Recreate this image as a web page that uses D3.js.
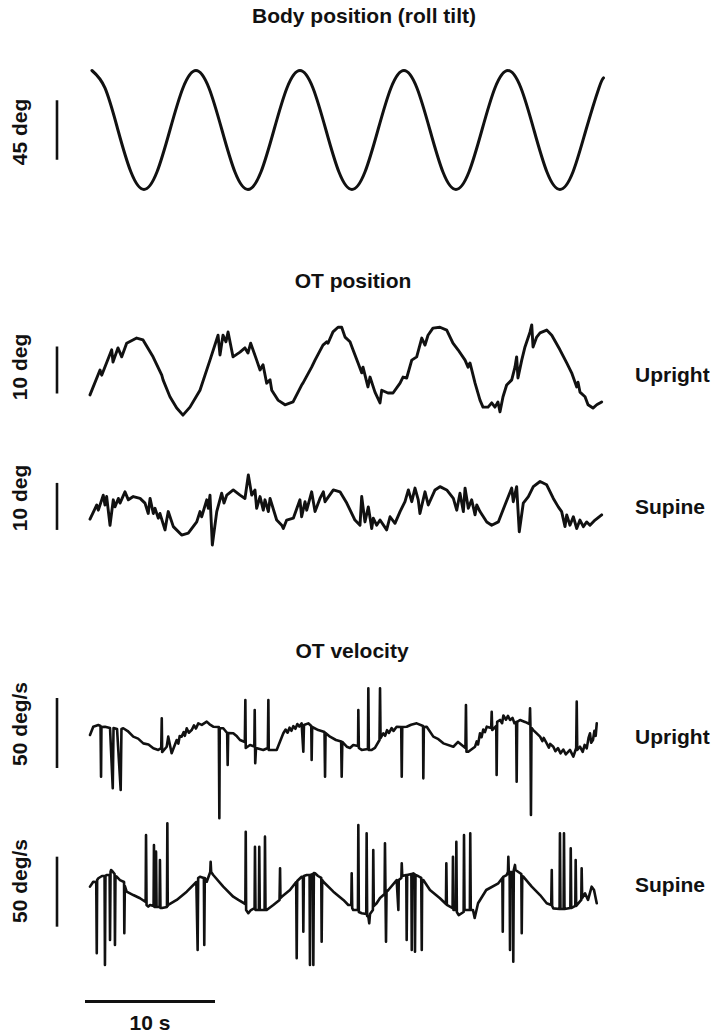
<!DOCTYPE html>
<html>
<head>
<meta charset="utf-8">
<script src="https://cdn.jsdelivr.net/npm/d3@7"></script>
<style>
  html, body { margin: 0; padding: 0; background: #fff; }
  svg text { font-family: "Liberation Sans", Arial, Helvetica, sans-serif; font-weight: bold; fill: #111; }
</style>
</head>
<body>
<svg id="chart" width="716" height="1034"></svg>
<script>
// ---- data: [time (s), value] ----
// Body roll tilt (deg)
const bodyTilt = [
  [0.15,45],[1.15,31.8],[2.15,0],[3.15,-31.8],[4.15,-45],[5.15,-31.8],[6.15,0],[7.15,31.8],
  [8.15,45],[9.15,31.8],[10.15,0],[11.15,-31.8],[12.15,-45],[13.15,-31.8],[14.15,0],[15.15,31.8],
  [16.15,45],[17.15,31.8],[18.15,0],[19.15,-31.8],[20.15,-45],[21.15,-31.8],[22.15,0],[23.15,31.8],
  [24.15,45],[25.15,31.8],[26.15,0],[27.15,-31.8],[28.15,-45],[29.15,-31.8],[30.15,0],[31.15,31.8],
  [32.15,45],[33.15,31.8],[34.15,0],[35.15,-31.8],[36.15,-45],[37.15,-31.8],[38.15,0],[39.15,31.8],
  [39.5,39.4]
];

// Ocular torsion position, upright (deg)
const otPosUpright = [
  [0,-5.3],[0.77,0],[0.9,-1.1],[1.67,4.3],[1.77,1.7],[2.15,4.7],[2.44,2.8],[2.82,5.7],[3.59,6.8],[4.08,6.4],
  [4.85,2.8],[5.52,-1.1],[5.62,-2.1],[6.15,-5.7],[6.67,-8.1],[7.15,-9.6],[7.69,-7.9],[8.46,-4.3],[9.23,2.1],
  [9.85,7.4],[10.0,3.2],[10.23,7.4],[10.46,6.0],[10.62,8.1],[11.0,2.8],[11.54,3.8],[11.92,4.7],[12.15,3.6],
  [12.36,5.7],[12.82,2.1],[13.08,0],[13.31,1.1],[13.59,-2.8],[13.85,-2.1],[13.98,-4.3],[14.46,-6.4],[15.0,-7.4],
  [15.62,-6.8],[16.28,-3.2],[16.38,-2.8],[17.05,0.6],[17.31,2.1],[17.92,5.3],[18.21,6.0],[18.31,5.7],[18.69,8.1],
  [19.08,9.1],[19.36,9.1],[19.62,7.0],[20.0,6.0],[20.23,4.3],[20.62,1.5],[20.9,-0.6],[21.0,0.6],[21.38,-3.6],
  [21.54,-1.5],[21.92,-4.7],[22.31,-7.0],[22.44,-4.3],[22.92,-4.9],[23.31,-4.9],[23.85,-2.8],[24.08,-1.5],
  [24.36,-1.7],[24.75,2.1],[25.13,2.8],[25.52,6.8],[25.77,5.3],[26.0,7.4],[26.38,8.9],[26.92,9.1],[27.44,8.5],
  [27.92,5.7],[28.31,4.3],[28.85,2.1],[29.08,0.6],[29.23,1.5],[29.62,-2.8],[30.0,-6.4],[30.23,-7.9],[30.62,-7.9],
  [30.9,-7.0],[31.15,-7.9],[31.38,-6.8],[31.54,-8.9],[31.77,-5.7],[32.05,-3.2],[32.44,-2.1],[32.69,0.6],
  [32.82,2.8],[32.92,-1.7],[33.21,2.1],[33.46,4.9],[33.85,8.1],[33.98,9.6],[34.08,4.9],[34.36,7.0],[34.62,7.9],
  [35.13,8.5],[35.52,7.4],[36.15,4.3],[36.67,1.5],[37.05,-0.6],[37.44,-3.6],[37.54,-2.6],[37.69,-4.7],
  [38.08,-5.7],[38.31,-7.4],[38.69,-8.1],[38.98,-7.4],[39.36,-6.8]
];

// Ocular torsion position, supine (deg)
const otPosSupine = [
  [0,-3.0],[0.52,0],[0.64,-1.1],[1.02,2.1],[1.15,0],[1.28,1.8],[1.54,-4.3],[1.79,1.1],[1.92,-0.4],[2.18,1.4],
  [2.31,0.4],[2.69,2.8],[2.95,1.1],[3.33,1.8],[3.85,1.4],[4.23,0.4],[4.48,-1.8],[4.62,1.4],[4.87,-1.8],[5.0,-0.7],
  [5.25,-2.8],[5.38,-1.8],[5.77,-5.3],[5.9,-3.2],[6.02,-1.4],[6.41,-4.6],[7.05,-6.4],[7.56,-6.0],[8.21,-3.6],
  [8.46,-1.4],[8.59,-2.5],[8.98,1.1],[9.1,-0.7],[9.23,2.1],[9.41,-8.5],[9.75,-1.4],[10.13,2.5],[10.31,0.4],
  [10.52,2.1],[11.02,3.2],[11.54,2.1],[11.92,1.4],[12.18,6.4],[12.44,2.1],[12.69,3.2],[12.82,-0.7],[13.08,1.8],
  [13.33,-1.1],[13.46,1.1],[13.72,-1.4],[13.85,1.4],[14.36,-3.2],[14.75,-4.3],[14.87,-5.0],[15.13,-3.2],
  [15.64,-2.8],[16.15,1.1],[16.28,-2.5],[16.54,0.7],[16.67,-1.1],[17.05,2.8],[17.31,-1.4],[17.69,1.4],[17.95,2.8],
  [18.08,0.7],[18.72,3.2],[19.23,2.8],[19.75,0.4],[20.38,-3.2],[20.77,-4.3],[20.9,1.8],[21.15,-3.6],[21.41,-0.4],
  [21.67,-5.0],[21.79,-2.8],[22.05,-4.3],[22.31,-3.2],[22.82,-5.3],[23.08,-2.5],[23.46,-3.9],[23.85,-1.4],
  [24.23,0.7],[24.49,3.2],[24.75,0.7],[25.0,3.6],[25.25,1.1],[25.38,-1.8],[25.77,2.8],[26.02,0],[26.54,3.2],
  [26.92,3.9],[27.44,3.2],[27.95,1.4],[28.21,-1.1],[28.46,2.5],[28.72,-1.4],[28.85,3.6],[29.1,-0.7],[29.36,1.1],
  [29.62,-2.1],[29.75,0],[30.0,-1.4],[30.52,-3.6],[30.9,-4.3],[31.41,-3.6],[31.92,0],[32.18,1.8],[32.44,3.6],
  [32.56,0.7],[32.82,3.9],[33.02,-5.7],[33.33,0.4],[33.72,1.8],[34.1,3.9],[34.62,5.0],[35.13,4.3],[35.64,1.4],
  [36.02,-0.4],[36.28,-1.4],[36.54,-4.6],[36.67,-2.1],[36.92,-4.3],[37.18,-2.5],[37.44,-5.0],[37.69,-3.2],
  [37.95,-4.6],[38.21,-3.6],[38.46,-4.3],[38.85,-3.2],[39.36,-2.1]
];

// Ocular torsion velocity, upright (deg/s)
const otVelUpright = [
  [0,3.6],[0.25,9.5],[0.64,10.7],[0.81,10],[0.85,-26.2],[0.88,9.3],[1.15,9.5],[1.54,8.6],[1.75,-34.5],[1.81,8.6],
  [2.08,7.9],[2.36,-35.7],[2.42,7.9],[2.56,8.4],[2.9,6.4],[3.33,2.4],[3.7,1.0],[4.1,-2.4],[4.5,-3.2],[4.87,-5.9],
  [5.25,-7.1],[5.48,-5.7],[5.52,15.5],[5.55,-8.6],[5.9,-4.8],[6.02,2.4],[6.28,-9.5],[6.67,0],[6.8,-2.6],
  [6.9,2.8],[7.05,2.4],[7.2,5.6],[7.3,3.0],[7.44,8.4],[7.6,5.2],
  [7.82,7.1],[8.0,10.4],[8.15,8.2],[8.33,11.9],[8.6,10.8],[8.98,13.1],[9.2,11.2],[9.48,9.5],[9.91,9.3],
  [9.95,-55.9],[9.98,8.6],
  [10.25,8.4],[10.55,5.0],[10.59,-17.9],[10.63,5.0],[11.02,4.8],[11.3,2.6],[11.54,0],[11.91,-1.4],[11.95,28.6],
  [11.98,-5.7],[12.31,-3.6],[12.64,-4.6],[12.67,21.4],[12.71,-16.6],[12.77,-5.7],[13.33,-7.1],[13.68,-5.7],
  [13.72,28.6],[13.75,-7.1],[13.98,-7.1],[14.36,-7.1],[14.87,4.8],[15.05,7.5],[15.2,5.2],[15.35,8.8],[15.5,6.6],
  [15.64,9.9],[15.8,8.0],[15.95,11.4],[16.1,9.6],[16.28,11.9],
  [16.41,-8.4],[16.46,10.7],[16.79,11.9],[17.02,10],[17.05,-14.3],[17.09,9.3],[17.56,7.1],[18.04,5.7],
  [18.08,-26.2],[18.12,5.0],[18.46,2.4],[18.92,0],[19.32,-1.0],[19.36,-26.2],[19.41,-1.4],[19.75,-4.8],
  [20.0,-5.7],[20.25,-3.6],[20.62,-4.3],[20.64,21.4],[20.68,-5.7],[20.9,-7.1],[21.38,-6.4],[21.41,36.9],
  [21.45,-7.1],[21.67,-7.1],[21.92,-5.7],[22.27,0],[22.31,36.9],[22.35,1.4],[22.56,4.8],[22.7,3.0],[22.85,7.0],
  [23.0,5.0],[23.2,8.5],[23.35,6.5],[23.59,9.5],
  [23.94,9.3],[23.98,-26.2],[24.02,9.3],[24.36,9.5],[24.7,10.9],[25.13,11.9],[25.62,10],[25.64,-27.4],
  [25.68,9.3],[25.9,9.5],[26.41,2.4],[26.8,0.6],[27.18,-2.4],[27.95,-4.8],[28.31,-1.4],[28.88,-5.7],[28.92,25],
  [28.96,-8.4],[29.1,-8.4],[29.62,-4.8],[29.75,-1.0],[29.85,-3.2],[30.0,4.8],[30.12,2.0],[30.25,7.5],[30.38,5.6],
  [30.52,9.5],[30.86,8.6],[30.9,20.2],[30.94,7.1],[31.25,10],
  [31.28,-25],[31.32,12.9],[31.54,14.3],[31.7,12.0],[31.8,17.5],[32.0,14.5],[32.15,17.2],[32.31,14.3],[32.5,15.8],
  [32.65,12.0],[32.78,12.9],[32.82,-29.8],[32.86,12.9],
  [33.08,14.3],[33.46,12.9],[33.81,11.4],[33.85,22.6],[33.88,10],[33.92,-53.6],[33.96,8.6],[34.1,7.1],
  [34.62,2.4],[34.8,-0.8],[34.9,1.5],[35.13,-2.4],[35.3,-5.5],[35.4,-2.8],[35.64,-4.8],[35.8,-8.0],[36.0,-5.8],
  [36.2,-9.5],[36.41,-6.8],[36.6,-10.2],[36.92,-7.1],[37.18,-11.9],[37.4,-5.7],
  [37.44,27.4],[37.48,-7.1],[37.69,-4.8],[37.9,-8.5],[38.05,-3.5],[38.21,-6.0],[38.35,1.5],[38.46,4.8],
  [38.55,-2.0],[38.69,0],[38.8,6.5],[38.9,3.0],[38.98,11.9]
];

// Ocular torsion velocity, supine (deg/s)
const otVelSupine = [
  [0,2.4],[0.25,5.9],[0.48,5.7],[0.52,-45.2],[0.55,7.1],[0.64,8.4],[0.92,10],[1.12,10],[1.15,-53.6],[1.19,10],
  [1.28,10.7],[1.51,10.7],[1.54,-35.7],[1.58,12.9],[1.62,14.3],[1.77,12.9],[1.89,11.4],[1.92,-39.3],[1.96,10],
  [2.05,9.5],[2.31,7.1],[2.62,5.7],[2.64,-30.9],[2.68,2.9],[2.82,-1.2],[3.33,-3.6],[3.85,-5.9],[4.28,-8.6],
  [4.31,39.3],[4.35,-10.7],[4.48,-11.9],[4.62,-10.7],[4.89,-11.4],[4.92,32.1],[4.96,-12.1],[5.05,-12.1],
  [5.08,27.4],[5.12,-12.1],[5.35,-12.1],[5.38,21.4],[5.42,-12.9],[5.54,-12.9],[5.92,-12.1],[5.95,47.6],
  [5.98,-11.4],[6.02,-10.7],[6.67,-7.1],[7.44,-1.2],[8.18,5.7],[8.28,-42.9],[8.32,8.6],[8.46,9.5],[8.76,8.6],
  [8.79,-39.3],[8.83,8.6],[8.98,5.9],[9.25,12.9],[9.28,20.2],[9.32,12.9],[9.48,10.7],[10.25,2.4],[11.02,-4.8],
  [11.41,-7.1],[11.95,-10],[11.98,41.6],[12.01,-14.3],[12.18,-16.6],[12.38,-14.3],[12.66,-12.9],[12.69,30.9],
  [12.73,-14.3],[12.82,-14.3],[12.99,-14.3],[13.02,30.9],[13.06,-14.3],[13.21,-14.3],[13.43,-14.3],[13.46,38.1],
  [13.5,-14.3],[13.59,-14.3],[14.1,-10.7],[14.58,-7.1],[14.62,15.5],[14.65,-5.7],[14.75,-4.8],[15.38,0],
  [15.86,5.7],[15.9,-48.8],[15.94,6.4],[16.28,9.5],[16.38,9.3],[16.41,-29.8],[16.45,10],[16.67,10.7],
  [16.89,10.7],[16.92,-53.6],[16.96,10.7],[17.15,11.4],[17.18,-53.6],[17.22,12.1],[17.31,11.9],[17.54,10],
  [17.79,8.6],[17.82,-36.9],[17.86,7.1],[17.95,5.9],[18.72,-1.2],[19.49,-7.1],[19.87,-10.7],[20.1,-10.7],
  [20.13,11.9],[20.17,-12.9],[20.25,-14.3],[20.61,-14.3],[20.64,46.4],[20.68,-15.7],[20.9,-16.6],[21.25,-17.1],
  [21.28,40.5],[21.32,-18.6],[21.41,-19.0],[21.48,-23.8],[21.54,-17.1],[21.76,-14.3],[21.79,28.6],[21.83,-11.4],
  [22.05,-9.5],[22.31,-5.7],[22.66,-2.9],[22.69,33.4],[22.73,-2.1],[22.77,-36.9],[22.81,-1.4],[22.95,0],
  [23.59,7.1],[23.72,-14.3],[23.75,7.1],[23.95,8.6],[23.98,19.1],[24.02,10],[24.33,10.7],[24.36,-35.7],
  [24.4,10.7],[24.72,11.4],[24.75,-42.9],[24.78,11.4],[24.87,11.9],[24.97,11.4],[25.0,-44.1],[25.04,10.7],
  [25.23,10],[25.48,8.6],[25.52,-42.9],[25.55,7.1],[25.64,7.1],[26.15,0],[26.92,-5.9],[27.38,-10],[27.41,19.1],
  [27.45,-10.7],[27.89,-12.9],[27.92,23.8],[27.96,-14.3],[28.15,-14.3],[28.18,34.5],[28.22,-15.7],[28.36,-17.9],
  [28.74,-15.7],[28.77,39.3],[28.81,-14.3],[29.22,-14.3],[29.25,40.5],[29.29,-14.3],[29.46,-14.3],[29.59,-20],
  [29.85,-9.5],[30.48,0],[31.41,4.8],[31.72,8.6],[31.75,-29.8],[31.78,9.3],[32.05,10.7],[32.15,12.9],
  [32.18,23.8],[32.22,11.4],[32.28,11.4],[32.31,-42.9],[32.35,12.9],[32.54,12.9],[32.56,-51.2],[32.6,14.3],
  [32.69,17.9],[32.73,14.3],[33.18,11.4],[33.21,-30.9],[33.25,10],[33.33,9.5],[33.98,2.4],[34.62,-3.6],
  [35.13,-9.5],[35.48,-10.7],[35.52,14.3],[35.55,-11.4],[35.64,-13.1],[36.12,-13.6],[36.15,40.5],[36.19,-13.6],
  [36.43,-13.6],[36.46,40.5],[36.5,-13.6],[36.95,-12.9],[36.98,29.8],[37.02,-12.9],[37.33,-11.4],[37.36,21.4],
  [37.4,-11.4],[37.79,-7.1],[37.82,15.5],[37.86,-5.7],[38.08,-2.4],[38.31,-7.1],[38.59,2.4],[38.77,0],[38.98,-9.5]
];

// ---- text ----
const sectionTitles = ["Body position (roll tilt)", "OT position", "OT velocity"];
const scaleLabels = ["45 deg", "10 deg", "10 deg", "50 deg/s", "50 deg/s"];
const scaleSizes = [45, 10, 10, 50, 50];
const conditionLabels = ["", "Upright", "Supine", "Upright", "Supine"];
const timeBarSeconds = 10;
const timeBarLabel = "10 s";

// ---- layout ----
const svg = d3.select("#chart");
const x = d3.scaleLinear().domain([0, 40]).range([90, 610]);

// one vertical scale per trace: value 0 sits at "zero", "ppu" pixels per unit
const panels = [
  { data: bodyTilt,     zero: 130, ppu: 1.322, curve: d3.curveNatural, width: 3.0, barMid: 0,    labelY: 132, condY: 0 },
  { data: otPosUpright, zero: 370, ppu: 4.7,   curve: d3.curveLinear,  width: 2.9, barMid: 0,    labelY: 367, condY: 382 },
  { data: otPosSupine,  zero: 505, ppu: 4.7,   curve: d3.curveLinear,  width: 2.9, barMid: -0.3, labelY: 498, condY: 514 },
  { data: otVelUpright, zero: 740, ppu: 1.4,   curve: d3.curveLinear,  width: 2.6, barMid: 5,    labelY: 724, condY: 744 },
  { data: otVelSupine,  zero: 890, ppu: 1.4,   curve: d3.curveLinear,  width: 2.6, barMid: -1.2, labelY: 881, condY: 892 }
];

panels.forEach((p, i) => {
  const y = d3.scaleLinear().domain([-1, 1]).range([p.zero + p.ppu, p.zero - p.ppu]);
  const line = d3.line().x(d => x(d[0])).y(d => y(d[1])).curve(p.curve);

  svg.append("path")
    .datum(p.data)
    .attr("d", line)
    .attr("fill", "none")
    .attr("stroke", "#111")
    .attr("stroke-width", p.width)
    .attr("stroke-linejoin", "round")
    .attr("stroke-linecap", "round");

  // amplitude scale bar
  const half = scaleSizes[i] / 2;
  svg.append("line")
    .attr("x1", 57).attr("x2", 57)
    .attr("y1", y(p.barMid + half)).attr("y2", y(p.barMid - half))
    .attr("stroke", "#111").attr("stroke-width", 2.6);

  svg.append("text")
    .attr("transform", `translate(27,${p.labelY}) rotate(-90)`)
    .attr("text-anchor", "middle")
    .attr("font-size", 21)
    .text(scaleLabels[i]);

  if (conditionLabels[i]) {
    svg.append("text")
      .attr("x", 635).attr("y", p.condY)
      .attr("font-size", 21)
      .text(conditionLabels[i]);
  }
});

// section titles
const titleSpots = [[364, 23], [353, 288], [352, 658]];
sectionTitles.forEach((t, i) => {
  svg.append("text")
    .attr("x", titleSpots[i][0]).attr("y", titleSpots[i][1])
    .attr("text-anchor", "middle")
    .attr("font-size", 21)
    .text(t);
});

// time scale bar
const barLen = x(timeBarSeconds) - x(0);
svg.append("line")
  .attr("x1", 85).attr("x2", 85 + barLen)
  .attr("y1", 1001.5).attr("y2", 1001.5)
  .attr("stroke", "#111").attr("stroke-width", 2.8);
svg.append("text")
  .attr("x", 85 + barLen / 2).attr("y", 1030)
  .attr("text-anchor", "middle")
  .attr("font-size", 21)
  .text(timeBarLabel);
</script>
</body>
</html>
